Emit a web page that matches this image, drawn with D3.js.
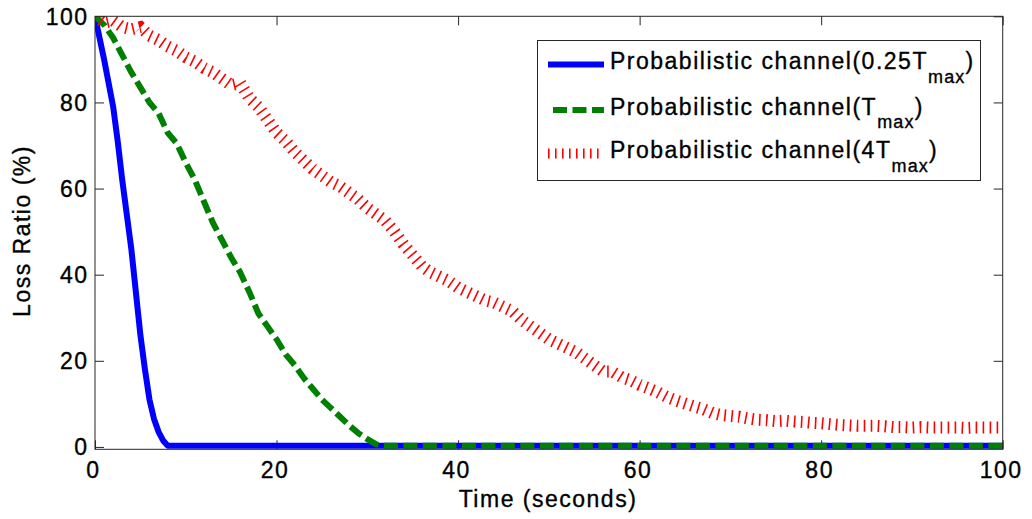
<!DOCTYPE html>
<html>
<head>
<meta charset="utf-8">
<script src="https://cdn.jsdelivr.net/npm/d3@7"></script>
<style>
  html, body { margin: 0; padding: 0; background: #fff; }
  svg { display: block; }
  text { font-family: "Liberation Sans", Arial, Helvetica, sans-serif; fill: #000; stroke: #000; stroke-width: 0.35px; }
</style>
</head>
<body>
<svg id="chart" width="1032" height="519"></svg>
<script>
// Loss ratio (%) over time (s) for three probabilistic channel settings
const xTicks = [0, 20, 40, 60, 80, 100];
const yTicks = [0, 20, 40, 60, 80, 100];

const seriesNames = [
  ["Probabilistic channel(0.25T", "max", ")"],
  ["Probabilistic channel(T", "max", ")"],
  ["Probabilistic channel(4T", "max", ")"]
];

// 0.25 Tmax
const blueTime = [0, 0.5, 1, 1.5, 2, 2.5, 3, 3.5, 4, 4.5, 5, 5.5, 6, 6.5, 7, 7.5, 8, 100];
const blueLoss = [100, 95, 90, 84.5, 79, 71, 62, 54, 46, 36, 26, 18, 11, 6.5, 3.5, 1.5, 0.3, 0.3];

// Tmax
const greenTime = [0, 1, 2, 3, 4, 5, 6, 7, 8, 9, 10, 11, 12, 13, 14, 15, 16, 17, 18, 19, 20,
  21, 22, 23, 24, 25, 26, 27, 28, 29, 30, 31, 32, 100];
const greenLoss = [100, 98, 95, 91, 87, 83.5, 80, 77.5, 73, 70.5, 66, 62, 57, 52, 48, 44, 40.5,
  36, 31, 28, 25, 21.5, 19, 16, 13.5, 11, 9, 7, 5, 3.2, 1.8, 0.6, 0.3, 0.3];

// 4 Tmax, one sample per second from 0 to 100 s
const redLoss = [100, 98.5, 99, 97.5, 97, 97.5, 95.5, 94.5, 93, 92, 90.5, 89.5, 88, 87, 85.5,
  84, 84.5, 81, 79, 76, 73, 71, 68.5, 66.5, 64.5, 63, 61.5, 60.5, 59, 57.5, 55.5, 54, 52.5,
  50, 47, 44.5, 42, 40.5, 39.5, 38.5, 37, 36, 35, 34, 33.5, 32.5, 31.5, 29.5, 28, 26.5, 25,
  24, 23, 22, 20.5, 19, 17.5, 17.5, 16.2, 15.5, 14.4, 13.6, 12.7, 11.6, 10.8, 10.1, 9.4, 8.8,
  7.9, 7.4, 7.2, 7, 6.6, 6.3, 6.2, 6, 6.1, 5.9, 5.8, 5.6, 5.5, 5.3, 5.1, 5.0, 4.9, 4.9, 4.9,
  4.8, 4.6, 4.6, 4.5, 4.6, 4.5, 4.5, 4.5, 4.5, 4.4, 4.5, 4.5, 4.5, 4.5];
const redTime = d3.range(redLoss.length);

const svg = d3.select("#chart");
const plot = { left: 95, top: 16.3, right: 1002.7, bottom: 449.3 };

const x = d3.scaleLinear().domain([0, 100]).range([plot.left, plot.right]);
const y = d3.scaleLinear().domain([-0.55, 100]).range([plot.bottom, plot.top]);

const axisColor = "#262626";
const font = 23;
const spacing = "1.5px";

// Frame ticks (inward, mirrored on all sides)
const tickLen = 9;
const axes = svg.append("g");
axes.append("g")
  .attr("transform", `translate(0,${plot.bottom})`)
  .call(d3.axisBottom(x).tickValues(xTicks).tickSizeInner(-tickLen).tickSizeOuter(0).tickFormat(""))
  .call(g => g.select(".domain").remove());
axes.append("g")
  .attr("transform", `translate(0,${plot.top})`)
  .call(d3.axisTop(x).tickValues(xTicks).tickSizeInner(-tickLen).tickSizeOuter(0).tickFormat(""))
  .call(g => g.select(".domain").remove());
axes.append("g")
  .attr("transform", `translate(${plot.left},0)`)
  .call(d3.axisLeft(y).tickValues(yTicks).tickSizeInner(-tickLen).tickSizeOuter(0).tickFormat(""))
  .call(g => g.select(".domain").remove());
axes.append("g")
  .attr("transform", `translate(${plot.right},0)`)
  .call(d3.axisRight(y).tickValues(yTicks).tickSizeInner(-tickLen).tickSizeOuter(0).tickFormat(""))
  .call(g => g.select(".domain").remove());
axes.selectAll(".tick line").attr("stroke", axisColor).attr("stroke-width", 1);

// Tick labels
svg.append("g").selectAll("text").data(xTicks).join("text")
  .attr("x", d => x(d) - 1.5)
  .attr("y", 477.5)
  .attr("text-anchor", "middle")
  .attr("font-size", font)
  .style("letter-spacing", spacing)
  .text(d => d);
svg.append("g").selectAll("text").data(yTicks).join("text")
  .attr("x", 88.5)
  .attr("y", d => y(d))
  .attr("dy", "0.36em")
  .attr("text-anchor", "end")
  .attr("font-size", font)
  .style("letter-spacing", spacing)
  .text(d => d);

// Axis titles
svg.append("text")
  .attr("x", 548)
  .attr("y", 506.5)
  .attr("text-anchor", "middle")
  .attr("font-size", font)
  .style("letter-spacing", spacing)
  .text("Time (seconds)");
svg.append("text")
  .attr("transform", "translate(30,231) rotate(-90)")
  .attr("text-anchor", "middle")
  .attr("font-size", font)
  .style("letter-spacing", spacing)
  .text("Loss Ratio (%)");

// Data lines
svg.append("clipPath").attr("id", "plotClip")
  .append("rect")
  .attr("x", plot.left).attr("y", plot.top)
  .attr("width", plot.right - plot.left).attr("height", plot.bottom - plot.top);

const line = d3.line().x(d => x(d[0])).y(d => y(d[1]));
const lines = svg.append("g").attr("clip-path", "url(#plotClip)");

const styles = [
  { color: "#0000ff", width: 6, dash: null, join: "round" },
  { color: "#008000", width: 6, dash: "14,5.5", join: "miter" },
  { color: "#ff0000", width: 12, dash: "1.6,5.4", join: "miter" }
];
const series = [
  d3.zip(blueTime, blueLoss),
  d3.zip(greenTime, greenLoss),
  d3.zip(redTime, redLoss)
];

series.forEach((pts, i) => {
  const s = styles[i];
  lines.append("path")
    .datum(pts)
    .attr("fill", "none")
    .attr("stroke", s.color)
    .attr("stroke-width", s.width)
    .attr("stroke-linejoin", s.join)
    .attr("stroke-linecap", "butt")
    .attr("stroke-dasharray", s.dash)
    .attr("d", line);
});

// Axes box
svg.append("rect")
  .attr("x", plot.left).attr("y", plot.top)
  .attr("width", plot.right - plot.left).attr("height", plot.bottom - plot.top)
  .attr("fill", "none")
  .attr("stroke", axisColor)
  .attr("stroke-width", 1);

// Legend
const legend = svg.append("g");
legend.append("rect")
  .attr("x", 537.5).attr("y", 40.5)
  .attr("width", 443).attr("height", 140)
  .attr("fill", "#fff")
  .attr("stroke", axisColor)
  .attr("stroke-width", 1);

const rowY = [64.5, 110, 153.5];
const sampleStyles = [
  { width: 6, x0: 548 },
  { width: 6, x0: 553 },
  { width: 10, x0: 548 }
];
seriesNames.forEach((name, i) => {
  const s = styles[i];
  legend.append("line")
    .attr("x1", sampleStyles[i].x0).attr("x2", 604)
    .attr("y1", rowY[i]).attr("y2", rowY[i])
    .attr("stroke", s.color)
    .attr("stroke-width", sampleStyles[i].width)
    .attr("stroke-dasharray", s.dash);
  const t = legend.append("text")
    .attr("x", 610)
    .attr("y", rowY[i] + 4.7)
    .attr("font-size", font)
    .style("letter-spacing", spacing);
  t.append("tspan").text(name[0]);
  t.append("tspan").attr("dy", 13.7).attr("font-size", 18).style("letter-spacing", "1.2px").text(name[1]);
  t.append("tspan").attr("dy", -13.7).text(name[2]);
});
</script>
</body>
</html>
